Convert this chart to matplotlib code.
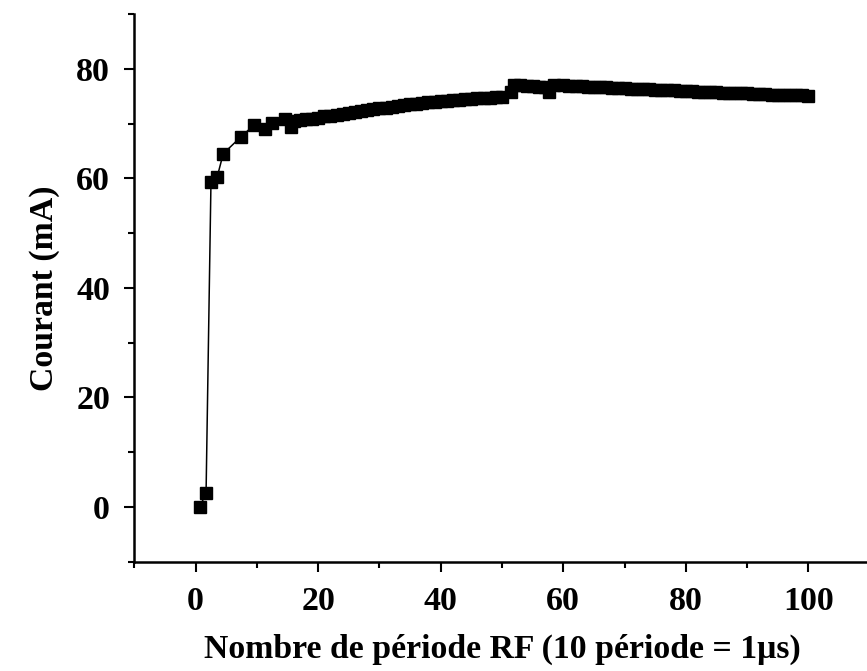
import matplotlib
matplotlib.use("Agg")
import matplotlib.pyplot as plt
from matplotlib.ticker import MultipleLocator

# ── Data ─────────────────────────────────────────────────────────────────────

# rising edge
x_rise = [0.7, 1.7, 2.5, 3.5, 4.5, 7.4, 9.5, 11.4, 12.4, 14.6, 15.5]
y_rise = [0.0, 2.6, 59.3, 60.2, 64.5, 67.6, 69.7, 69.0, 70.1, 70.9, 69.3]

# slow climb up to ~50 periods
x_climb = [16, 17, 18, 19, 20, 21, 22, 23, 24, 25, 26, 27, 28, 29, 30,
           31, 32, 33, 34, 35, 36, 37, 38, 39, 40, 41, 42, 43, 44, 45,
           46, 47, 48, 49, 50]
y_climb = [70.4, 70.6, 70.8, 70.9, 71.1, 71.3, 71.4, 71.6, 71.7, 71.9,
           72.1, 72.3, 72.4, 72.6, 72.8, 72.9, 73.1, 73.2, 73.4, 73.5,
           73.6, 73.8, 73.9, 74.0, 74.1, 74.2, 74.3, 74.4, 74.5, 74.5,
           74.6, 74.7, 74.7, 74.8, 74.9]

# bump around 52-58
x_bump = [51.5, 52, 53, 54, 55, 56, 57, 57.6]
y_bump = [75.7, 77.1, 77.0, 76.9, 76.8, 76.7, 76.6, 75.8]

# plateau to the end
x_tail = [58.5, 60, 61, 62, 63, 64, 65, 66, 67, 68, 69, 70, 71, 72, 73,
          74, 75, 76, 77, 78, 79, 80, 81, 82, 83, 84, 85, 86, 87, 88,
          89, 90, 91, 92, 93, 94, 95, 96, 97, 98, 99, 100]
y_tail = [77.1, 77.0, 76.95, 76.9, 76.8, 76.75, 76.7, 76.65, 76.6, 76.55,
          76.5, 76.45, 76.4, 76.35, 76.3, 76.25, 76.2, 76.15, 76.1, 76.05,
          76.0, 75.95, 75.9, 75.85, 75.8, 75.75, 75.7, 75.65, 75.6, 75.55,
          75.5, 75.5, 75.45, 75.4, 75.35, 75.3, 75.3, 75.25, 75.2, 75.2,
          75.15, 75.1]

x_vals = x_rise + x_climb + x_bump + x_tail
y_vals = y_rise + y_climb + y_bump + y_tail

# ── Figure ───────────────────────────────────────────────────────────────────

plt.rcParams["font.family"] = ["Liberation Serif", "DejaVu Serif"]
plt.rcParams["font.weight"] = "bold"

fig = plt.figure(figsize=(8.67, 6.71), dpi=100)
ax = fig.add_axes([0.155, 0.163, 0.848, 0.816])

ax.plot(x_vals, y_vals, color="black", linewidth=1.1,
        marker="s", markersize=8.5, markerfacecolor="black",
        markeredgecolor="black")

ax.set_xlim(-10, 110)
ax.set_ylim(-10, 90)

ax.xaxis.set_major_locator(MultipleLocator(20))
ax.xaxis.set_minor_locator(MultipleLocator(10))
ax.yaxis.set_major_locator(MultipleLocator(20))
ax.yaxis.set_minor_locator(MultipleLocator(10))

for side in ("top", "right"):
    ax.spines[side].set_visible(False)
for side in ("left", "bottom"):
    ax.spines[side].set_linewidth(1.8)

ax.tick_params(which="major", direction="out", length=7.5, width=1.5,
               labelsize=24.5)
ax.tick_params(axis="x", which="major", pad=10)
ax.tick_params(axis="y", which="major", pad=10)
ax.tick_params(which="minor", direction="out", length=4, width=1.5)
for lbl in ax.get_xticklabels() + ax.get_yticklabels():
    lbl.set_fontweight("bold")

ax.set_xlabel("Nombre de période RF (10 période = 1μs)",
              fontsize=24.3, fontweight="bold", labelpad=12)
ax.set_ylabel("Courant (mA)", fontsize=24.3, fontweight="bold", labelpad=12)

fig.savefig("out.png", dpi=100, facecolor="white")
